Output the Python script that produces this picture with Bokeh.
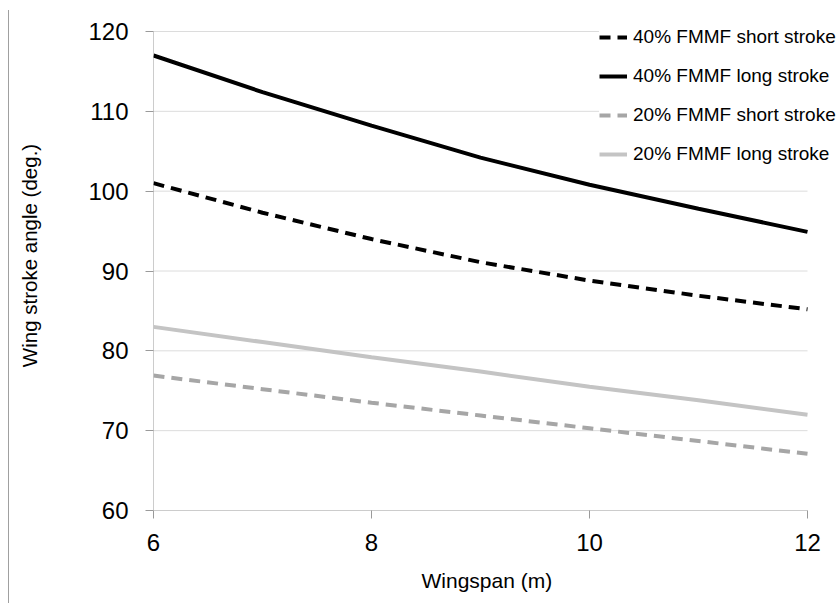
from bokeh.plotting import figure
from bokeh.models import Legend, LegendItem, FixedTicker, Range1d, Title
from bokeh.embed import file_html
from bokeh.resources import INLINE

wingspan = [6, 7, 8, 9, 10, 11, 12]
long40 = [117.0, 112.4, 108.2, 104.2, 100.8, 97.8, 94.9]
short40 = [101.0, 97.3, 94.0, 91.1, 88.8, 86.9, 85.2]
long20 = [83.0, 81.1, 79.2, 77.4, 75.5, 73.8, 72.0]
short20 = [76.9, 75.2, 73.5, 71.9, 70.3, 68.7, 67.1]
labels = ["40% FMMF short stroke", "40% FMMF long stroke",
          "20% FMMF short stroke", "20% FMMF long stroke"]
x_ticks = [6, 8, 10, 12]
y_ticks = [60, 70, 80, 90, 100, 110, 120]

FONT = "Liberation Sans"
AXIS_GRAY = "#9a9a9a"

W, H = 838, 603
LEFT, RIGHT_PX, TOP_PX, BOTTOM = 153, 807, 31, 510
# frame extends to the canvas right and top edges so the legend is not clipped
px_per_x = (RIGHT_PX - LEFT) / (x_ticks[-1] - x_ticks[0])
px_per_y = (BOTTOM - TOP_PX) / (y_ticks[-1] - y_ticks[0])
x_end = x_ticks[-1] + (W - RIGHT_PX) / px_per_x
y_end = y_ticks[-1] + TOP_PX / px_per_y

p = figure(width=W, height=H, output_backend="svg", toolbar_location=None,
           x_range=Range1d(x_ticks[0], x_end), y_range=Range1d(y_ticks[0], y_end),
           min_border_left=LEFT, min_border_right=0, min_border_top=0,
           min_border_bottom=H - BOTTOM)
p.outline_line_color = None
p.background_fill_color = "white"
p.border_fill_alpha = 0.0

# gridlines and axis lines limited to the data extent
p.segment(x0=[x_ticks[0]] * (len(y_ticks) - 1), x1=[x_ticks[-1]] * (len(y_ticks) - 1),
          y0=y_ticks[1:], y1=y_ticks[1:], line_color="#dcdcdc", line_width=1)
p.segment(x0=[x_ticks[0]], x1=[x_ticks[-1]], y0=[y_ticks[0]], y1=[y_ticks[0]],
          line_color=AXIS_GRAY, line_width=1)
p.segment(x0=[x_ticks[0]], x1=[x_ticks[0]], y0=[y_ticks[0]], y1=[y_ticks[-1]],
          line_color=AXIS_GRAY, line_width=1)

r1 = p.line(wingspan, short40, line_color="black", line_width=4, line_dash="11 7")
r2 = p.line(wingspan, long40, line_color="black", line_width=4)
r3 = p.line(wingspan, short20, line_color="#a6a6a6", line_width=4, line_dash="11 7")
r4 = p.line(wingspan, long20, line_color="#c4c4c4", line_width=4)

p.xgrid.grid_line_color = None
p.ygrid.grid_line_color = None

p.xaxis.ticker = FixedTicker(ticks=x_ticks)
p.yaxis.ticker = FixedTicker(ticks=y_ticks)
for ax in (p.xaxis[0], p.yaxis[0]):
    ax.axis_line_color = None
    ax.major_tick_line_color = AXIS_GRAY
    ax.minor_tick_line_color = None
    ax.major_tick_in = 0
    ax.major_tick_out = 8
    ax.major_label_text_font = FONT
    ax.major_label_text_color = "black"
    ax.axis_label_text_font = FONT
    ax.axis_label_text_font_style = "normal"
    ax.axis_label_text_color = "black"
    ax.axis_label_text_font_size = "20.5px"

p.yaxis.major_label_text_font_size = "24px"
p.xaxis.major_label_text_font_size = "24px"
p.yaxis.major_label_standoff = 17
p.xaxis.major_label_standoff = 15
p.yaxis.axis_label = "Wing stroke angle (deg.)"
p.yaxis.axis_label_standoff = 44

# small empty spacer title pushes the x-axis title a few pixels lower
spacer = Title(text=" ", text_font_size="5px", standoff=0)
p.add_layout(spacer, "below")
xt = Title(text="Wingspan (m)", align="left", offset=268, standoff=10,
           text_font=FONT, text_font_size="21px", text_font_style="normal",
           text_color="black")
p.add_layout(xt, "below")

legend = Legend(items=[LegendItem(label=labels[0], renderers=[r1]),
                       LegendItem(label=labels[1], renderers=[r2]),
                       LegendItem(label=labels[2], renderers=[r3]),
                       LegendItem(label=labels[3], renderers=[r4])],
                location=(446, 341))
legend.border_line_color = None
legend.background_fill_color = "white"
legend.background_fill_alpha = 1.0
legend.label_text_font = FONT
legend.label_text_font_size = "19px"
legend.label_text_color = "black"
legend.glyph_width = 28
legend.glyph_height = 30
legend.spacing = 9
legend.padding = 12
legend.margin = 0
legend.label_standoff = 6
p.add_layout(legend, "center")

p.styles = {
    "background-color": "white",
    "background-image": "linear-gradient(#a0a0a0, #a0a0a0)",
    "background-size": "1px calc(100% - 10px)",
    "background-position": "8px 10px",
    "background-repeat": "no-repeat",
}

open("out.html", "w").write(file_html(p, INLINE))
